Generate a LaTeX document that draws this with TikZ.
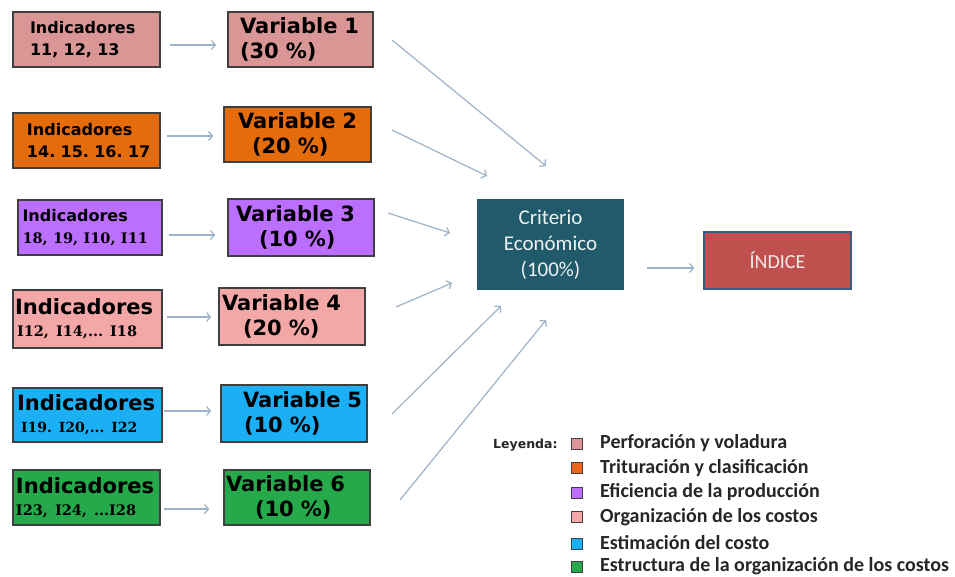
\documentclass[tikz,border=0pt]{standalone}
\usepackage{fontspec}
\setmainfont{DejaVu Sans}
\newfontfamily\serb{DejaVu Serif}
\newfontfamily\calf{Carlito}
\usetikzlibrary{arrows.meta,calc}
\definecolor{cA}{HTML}{D99694}
\definecolor{cB}{HTML}{E46C0A}
\definecolor{cC}{HTML}{BC6EFF}
\definecolor{cD}{HTML}{F4A7A7}
\definecolor{cE}{HTML}{1BB0F5}
\definecolor{cF}{HTML}{25A94B}
\definecolor{lB}{HTML}{F0641E}
\definecolor{bordc}{HTML}{3F3F3F}
\definecolor{arrc}{HTML}{9DB3C9}
\definecolor{critc}{HTML}{215A6A}
\definecolor{indc}{HTML}{C0504D}
\definecolor{indb}{HTML}{3A5A8A}
\frenchspacing
\begin{document}
\begin{tikzpicture}[x=1pt,y=1pt,
  box/.style={draw=bordc, line width=1.4pt, inner xsep=0pt, inner ysep=0pt, align=left},
  indS/.style={box, font=\frenchspacing\bfseries\fontsize{16}{22}\selectfont},
  indL/.style={box, font=\frenchspacing\bfseries\fontsize{21}{22}\selectfont},
  varb/.style={box, font=\bfseries\fontsize{21}{25}\selectfont},
  arr/.style={draw=arrc, line width=1.2pt, -{Straight Barb[length=4pt,width=9pt]}},
  legsq/.style={draw=bordc, line width=0.8pt, minimum width=11pt, minimum height=11pt, inner sep=0pt},
  legtx/.style={anchor=base west, inner sep=0pt, font=\calf\bfseries\fontsize{20}{22}\selectfont, text=black!85}
]
\useasboundingbox[fill=white] (0,0) rectangle (955,-577);

% Indicator boxes
\node[indS, fill=cA, minimum width=147pt, minimum height=55pt, text width=113pt] (ind1) at (86.5,-39.5) {Indicadores\\\mbox{11, 12, 13}};
\node[indS, fill=cB, minimum width=147pt, minimum height=55pt, text width=119pt] (ind2) at (86.5,-140.5) {Indicadores\\\mbox{14. 15. 16. 17}};
\node[indS, fill=cC, minimum width=144pt, minimum height=55pt, text width=135pt] (ind3) at (90,-227.5) {Indicadores\\\mbox{\serb\fontsize{14.5}{22}\selectfont 18, 19, I10, I11}};
\node[indL, fill=cD, minimum width=149pt, minimum height=58pt, text width=145pt] (ind4) at (87.5,-319) {\mbox{Indicadores}\\\hspace*{2pt}\mbox{\serb\fontsize{14.5}{22}\selectfont I12, I14,... I18}};
\node[indL, fill=cE, minimum width=149pt, minimum height=54pt, text width=141pt] (ind5) at (87.5,-415) {\mbox{Indicadores}\\\hspace*{4pt}\mbox{\serb\fontsize{14}{22}\selectfont I19. I20,... I22}};
\node[indL, fill=cF, minimum width=147pt, minimum height=55pt, text width=141pt] (ind6) at (86.5,-497.5) {\mbox{Indicadores}\\\mbox{\serb\fontsize{14.5}{22}\selectfont I23, I24, ...I28}};

% Variable boxes
\node[varb, fill=cA, minimum width=145pt, minimum height=55pt, text width=121pt] (var1) at (300.5,-39.5) {\mbox{Variable 1}\\(30 \%)};
\node[varb, fill=cB, minimum width=147pt, minimum height=55pt, text width=119pt] (var2) at (297.5,-134.5) {\mbox{Variable 2}\\\hspace*{14pt}(20 \%)};
\node[varb, fill=cC, minimum width=146pt, minimum height=57pt, text width=130pt] (var3) at (301,-227.5) {\mbox{Variable 3}\\\hspace*{23pt}(10 \%)};
\node[varb, fill=cD, minimum width=146pt, minimum height=57pt, text width=140pt] (var4) at (292,-316.5) {\mbox{Variable 4}\\\hspace*{21pt}(20 \%)};
\node[varb, fill=cE, minimum width=146pt, minimum height=57pt, text width=102pt] (var5) at (294,-413.5) {\mbox{Variable 5}\\\hspace*{1pt}(10 \%)};
\node[varb, fill=cF, minimum width=146pt, minimum height=55pt, text width=142pt] (var6) at (297,-497.5) {\mbox{Variable 6}\\\hspace*{29pt}(10 \%)};

% Criterio and Indice
\node[fill=critc, minimum width=147pt, minimum height=91pt, align=center, text=white!92!critc, font=\calf\fontsize{21}{26}\selectfont] (crit) at (550.5,-244.5) {Criterio\\Económico\\(100\%)};
\node[fill=indc, draw=indb, line width=1.2pt, minimum width=147pt, minimum height=57pt, text=white!88!indc, font=\calf\fontsize{20}{24}\selectfont] (indx) at (777.5,-260.5) {ÍNDICE};

% horizontal arrows
\draw[arr, shorten <=9pt, shorten >=11pt] ([yshift=-5.5pt]ind1.east) -- ([yshift=-5.5pt]ind1.east -| var1.west);
\draw[arr, shorten <=6pt, shorten >=10pt] ([yshift=4.5pt]ind2.east) -- ([yshift=4.5pt]ind2.east -| var2.west);
\draw[arr, shorten <=6pt, shorten >=12pt] ([yshift=-7.5pt]ind3.east) -- ([yshift=-7.5pt]ind3.east -| var3.west);
\draw[arr, shorten <=4pt, shorten >=7pt] ([yshift=2pt]ind4.east) -- ([yshift=2pt]ind4.east -| var4.west);
\draw[arr, shorten <=1pt, shorten >=9pt] ([yshift=4pt]ind5.east) -- ([yshift=4pt]ind5.east -| var5.west);
\draw[arr, shorten <=3pt, shorten >=14pt] ([yshift=-11.5pt]ind6.east) -- ([yshift=-11.5pt]ind6.east -| var6.west);

% converging arrows
\coordinate (s1) at (392,-40);  \coordinate (e1) at (546,-166);
\coordinate (s2) at (392,-130); \coordinate (e2) at (487,-176);
\coordinate (s3) at (388,-213); \coordinate (e3) at (450,-233);
\coordinate (s4) at (396,-307); \coordinate (e4) at (452,-283);
\coordinate (s5) at (392,-414); \coordinate (e5) at (501,-306);
\coordinate (s6) at (400,-500); \coordinate (e6) at (546,-320);
\foreach \i in {1,...,6} {\draw[arr] (s\i) -- (e\i);}

\draw[arr, shorten <=23pt, shorten >=9pt] ([yshift=-23.5pt]crit.east) -- ([yshift=-23.5pt]crit.east -| indx.west);

% legend
\node[anchor=base west, inner sep=0pt, font=\bfseries\fontsize{12.5}{13}\selectfont, text=black!85] (ley) at (493,-448) {Leyenda:};
\node[legsq, fill=cA] (q1) at (577,-444) {};
\node[legsq, fill=lB] (q2) at (577,-468) {};
\node[legsq, fill=cC] (q3) at (577,-493) {};
\node[legsq, fill=cD] (q4) at (577,-517) {};
\node[legsq, fill=cE] (q5) at (577,-544) {};
\node[legsq, fill=cF] (q6) at (577,-567) {};
\node[legtx] (t1) at (600,-448) {Perforación y voladura};
\node[legtx] (t2) at (600,-473) {Trituración y clasificación};
\node[legtx] (t3) at (600,-497) {Eficiencia de la producción};
\node[legtx] (t4) at (600,-522) {Organización de los costos};
\node[legtx] (t5) at (600,-549) {Estimación del costo};
\node[legtx] (t6) at (600,-571) {Estructura de la organización de los costos};
\end{tikzpicture}
\end{document}
